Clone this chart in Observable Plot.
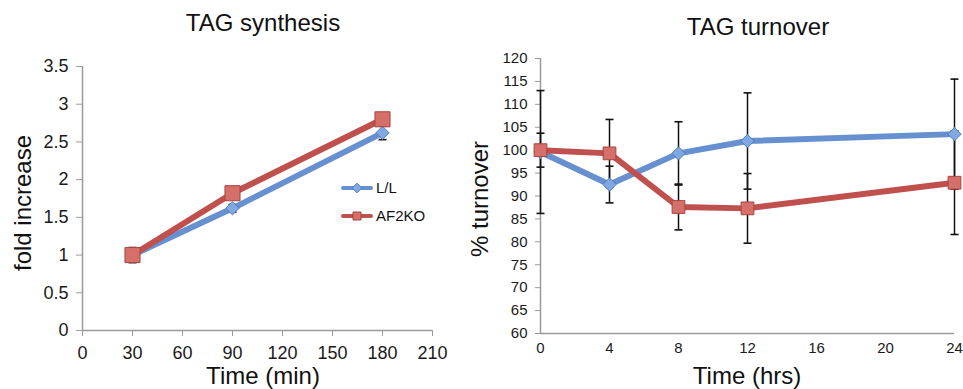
<!DOCTYPE html>
<html><head><meta charset="utf-8">
<script src="https://cdn.jsdelivr.net/npm/d3@7"></script>
<script src="https://cdn.jsdelivr.net/npm/@observablehq/plot@0.6"></script>
<style>
body{margin:0;background:#fff;}
#wrap{position:relative;width:963px;height:389px;overflow:hidden;font-family:"Liberation Sans",Arial,sans-serif;color:#111;}
.abs{position:absolute;white-space:nowrap;line-height:1;}
.plot{position:absolute;top:0;}
</style></head><body>
<div id="wrap"></div>
<script>
// ---- Data: TAG synthesis ----
const seriesNames = ["L/L", "AF2KO"];
const synthTime = [30, 90, 180];
const synthLL = [1.0, 1.62, 2.62];
const synthAF = [1.0, 1.82, 2.80];
const synthErrLL = [0.1, 0.05, 0.09];
const synthErrAF = [0.03, 0.04, 0.03];
const synthXTicks = [0, 30, 60, 90, 120, 150, 180, 210];
const synthYTicks = [0, 0.5, 1, 1.5, 2, 2.5, 3, 3.5];

// ---- Data: TAG turnover ----
const turnTime = [0, 4, 8, 12, 24];
const turnLL = [99.6, 92.5, 99.3, 102.0, 103.5];
const turnAF = [100.0, 99.3, 87.6, 87.3, 92.9];
const turnErrLL = [13.4, 4.0, 6.9, 10.5, 12.0];
const turnErrAF = [3.7, 7.4, 5.0, 7.6, 11.3];
const turnXTicks = [0, 4, 8, 12, 16, 20, 24];
const turnYTicks = [60, 65, 70, 75, 80, 85, 90, 95, 100, 105, 110, 115, 120];

// ---- Styles ----
const BLUE = "#6690cf", RED = "#c0504d";
const style = {
  "L/L": {line: BLUE, fill: "#82a8e2", stroke: "#4f7fc0", symbol: "diamond2"},
  "AF2KO": {line: RED, fill: "#d56f69", stroke: "#a94440", symbol: "square"}
};
const capSymbol = {draw(ctx) { ctx.moveTo(-4, 0); ctx.lineTo(4, 0); }};
const FONT = "Liberation Sans, Arial, sans-serif";
const fmt = d => String(d);

function rows(t, v, e, s) {
  return t.map((x, i) => ({x, y: v[i], lo: v[i] - e[i], hi: v[i] + e[i], s}));
}

function seriesMarks(data, rDiamond, rSquare) {
  const out = [];
  for (const d of data) {
    out.push(Plot.ruleX(d, {x: "x", y1: "lo", y2: "hi", stroke: "#111", strokeWidth: 1.5}));
    out.push(Plot.dot(d, {x: "x", y: "lo", symbol: capSymbol, stroke: "#111", strokeWidth: 1.6}));
    out.push(Plot.dot(d, {x: "x", y: "hi", symbol: capSymbol, stroke: "#111", strokeWidth: 1.6}));
  }
  for (const d of data) {
    const st = style[d[0].s];
    out.push(Plot.line(d, {x: "x", y: "y", stroke: st.line, strokeWidth: 6, strokeLinejoin: "round"}));
  }
  for (const d of data) {
    const st = style[d[0].s];
    out.push(Plot.dot(d, {x: "x", y: "y", symbol: st.symbol, r: st.symbol === "square" ? rSquare : rDiamond,
      fill: st.fill, stroke: st.stroke, strokeWidth: 1}));
  }
  return out;
}

const wrap = document.getElementById("wrap");

// ---- Left chart ----
const synthData = [rows(synthTime, synthLL, synthErrLL, "L/L"), rows(synthTime, synthAF, synthErrAF, "AF2KO")];
const left = Plot.plot({
  width: 480, height: 389,
  marginLeft: 82, marginRight: 48, marginTop: 66, marginBottom: 59,
  style: {fontFamily: FONT, background: "transparent", overflow: "visible"},
  x: {domain: [0, 210]},
  y: {domain: [0, 3.5]},
  marks: [
    Plot.axisX(synthXTicks, {tickSize: 6, tickPadding: 10, fontSize: 18, tickFormat: fmt, stroke: "#9a9a9a", fill: "#1a1a1a", label: null}),
    Plot.axisY(synthYTicks, {tickSize: 6, tickPadding: 8, fontSize: 18, tickFormat: fmt, stroke: "#9a9a9a", fill: "#1a1a1a", label: null}),
    Plot.ruleY([0], {stroke: "#9a9a9a", strokeWidth: 1.5}),
    Plot.ruleX([0], {stroke: "#9a9a9a", strokeWidth: 1.5}),
    ...seriesMarks(synthData, 6, 8.5)
  ]
});
left.classList.add("plot");
left.style.left = "0px";
wrap.appendChild(left);

// ---- Right chart ----
const turnData = [rows(turnTime, turnLL, turnErrLL, "L/L"), rows(turnTime, turnAF, turnErrAF, "AF2KO")];
const right = Plot.plot({
  width: 483, height: 389,
  marginLeft: 60, marginRight: 9, marginTop: 58, marginBottom: 56,
  style: {fontFamily: FONT, background: "transparent", overflow: "visible"},
  x: {domain: [0, 24]},
  y: {domain: [60, 120]},
  marks: [
    Plot.axisX(turnXTicks, {tickSize: 0, tickPadding: 9, fontSize: 15, tickFormat: fmt, stroke: "#9a9a9a", fill: "#1a1a1a", label: null}),
    Plot.axisY(turnYTicks, {tickSize: 5, tickPadding: 8, fontSize: 15, tickFormat: fmt, stroke: "#9a9a9a", fill: "#1a1a1a", label: null}),
    Plot.ruleY([60], {stroke: "#9a9a9a", strokeWidth: 1.5}),
    Plot.ruleX([0], {stroke: "#9a9a9a", strokeWidth: 1.5}),
    ...seriesMarks(turnData, 6, 7.2)
  ]
});
right.classList.add("plot");
right.style.left = "480px";
wrap.appendChild(right);

// ---- Titles and axis labels (HTML text) ----
function label(text, x, y, size, rotate) {
  const d = document.createElement("div");
  d.className = "abs";
  d.textContent = text;
  d.style.fontSize = size + "px";
  d.style.left = x + "px";
  d.style.top = y + "px";
  d.style.transform = "translate(-50%,-50%)" + (rotate ? " rotate(-90deg)" : "");
  wrap.appendChild(d);
}
label("TAG synthesis", 263, 23, 24);
label("TAG turnover", 758, 27, 24);
label("fold increase", 23, 203, 24, true);
label("% turnover", 480, 199, 24, true);
label("Time (min)", 263, 376, 24);
label("Time (hrs)", 747, 376, 24);

// ---- Legend ----
const legendY = [188, 216];
seriesNames.forEach((name, i) => {
  const st = style[name];
  const sv = d3.select(wrap).append("svg")
    .attr("width", 32).attr("height", 14)
    .style("position", "absolute").style("left", "341px").style("top", (legendY[i] - 7) + "px");
  sv.append("line").attr("x1", 2).attr("x2", 30).attr("y1", 7).attr("y2", 7)
    .attr("stroke", st.line).attr("stroke-width", 4).attr("stroke-linecap", "round");
  sv.append("path")
    .attr("d", d3.symbol(st.symbol === "square" ? d3.symbolSquare : d3.symbolDiamond2, st.symbol === "square" ? 64 : 60)())
    .attr("transform", "translate(16,7)")
    .attr("fill", st.fill).attr("stroke", st.stroke).attr("stroke-width", 1);
  const t = document.createElement("div");
  t.className = "abs";
  t.textContent = name;
  t.style.fontSize = "15px";
  t.style.left = "376px";
  t.style.top = (legendY[i] - 8) + "px";
  wrap.appendChild(t);
});
</script>
</body></html>
